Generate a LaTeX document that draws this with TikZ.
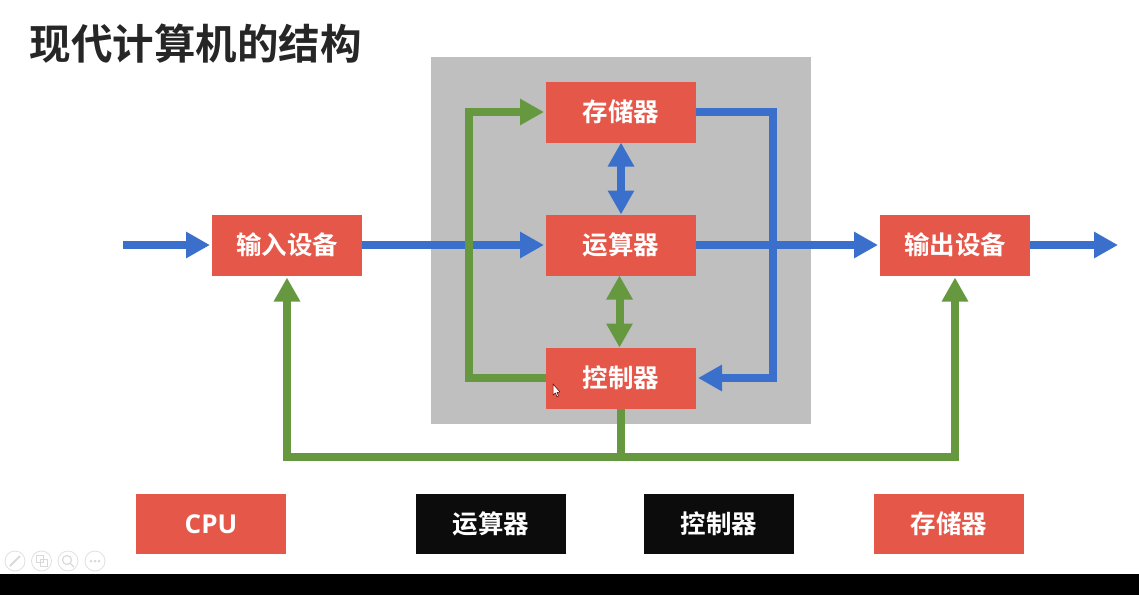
\documentclass[tikz,border=0pt]{standalone}
\usepackage{fontspec}
\setmainfont{Noto Sans CJK SC}[BoldFont={* Bold}]
\newfontfamily\cpufont{Open Sans}[BoldFont={* Bold}]
\usetikzlibrary{positioning,arrows.meta}
\definecolor{boxRed}{HTML}{E55749}
\definecolor{lineBlue}{HTML}{3A70CB}
\definecolor{lineGreen}{HTML}{66993F}
\definecolor{panelGray}{HTML}{BFBFBF}
\definecolor{barBlack}{HTML}{0C0C0C}
\tikzset{
  redBox/.style={fill=boxRed,text=white,minimum width=150pt,minimum height=61pt,inner sep=0pt,outer sep=0pt,font=\fontsize{25.5}{25.5}\selectfont\bfseries},
  blackBox/.style={redBox,fill=barBlack},
  blueLine/.style={draw=lineBlue,line width=8pt},
  greenLine/.style={draw=lineGreen,line width=8pt},
  arrowEnd/.style={-{Triangle[length=24pt,width=25pt]},shorten >=2pt},
  arrowBoth/.style={{Triangle[length=24pt,width=25pt]}-{Triangle[length=24pt,width=25pt]}},
  toolIcon/.style={circle,draw=black!12,line width=0.8pt,minimum size=20pt,inner sep=0pt}
}
\begin{document}
\begin{tikzpicture}[x=1pt,y=-1pt]
\useasboundingbox (0,0) rectangle (1139,595);
\fill[black] (0,574) rectangle (1139,595);
\fill[panelGray] (431,57) rectangle (811,424);
\node[anchor=west,font=\fontsize{41.5}{41.5}\selectfont\bfseries,text=black!85] (title) at (26,44) {现代计算机的结构};
% main row
\node[redBox] (mem) at (621,112) {存储器};
\node[redBox,below=72pt of mem] (alu) {运算器};
\node[redBox,below=72pt of alu] (ctrl) {控制器};
\node[redBox,left=184pt of alu] (input) {输入设备};
\node[redBox,right=184pt of alu] (output) {输出设备};
% bottom row
\node[redBox,minimum height=60pt,font=\fontsize{26}{26}\selectfont\bfseries\cpufont] (cpu) at (211,524) {CPU};
\node[blackBox,minimum height=60pt,right=130pt of cpu] (alu2) {运算器};
\node[blackBox,minimum height=60pt,right=78pt of alu2] (ctrl2) {控制器};
\node[redBox,minimum height=60pt,right=80pt of ctrl2] (mem2) {存储器};
\coordinate (inStart) at (123,245);
\coordinate (outEnd) at (1120,245);
\coordinate (busMid) at (ctrl.south |- 0,457);
\coordinate (rightRail) at (773,245);
\coordinate (leftRail) at (469,245);
% blue lines
\draw[blueLine,arrowEnd] (inStart) -- (input);
\draw[blueLine,arrowEnd] (input) -- (alu);
\draw[blueLine,arrowEnd] (alu) -- (output);
\draw[blueLine,arrowEnd] (output) -- (outEnd);
\draw[blueLine,arrowBoth] (mem) -- (alu);
\draw[blueLine,arrowEnd] (mem.east) -| (rightRail) |- (ctrl.east);
% green lines
\draw[greenLine,arrowBoth,transform canvas={xshift=-1.5pt}] (alu) -- (ctrl);
\draw[greenLine,arrowEnd] (ctrl.west) -| (leftRail) |- (mem.west);
\draw[greenLine] (ctrl.south) -- (busMid);
\draw[greenLine,arrowEnd] (busMid) -| (input.south);
\draw[greenLine,arrowEnd] (busMid) -| (output.south);
% mouse pointer
\fill[white,draw=black!70!red,line width=0.5pt] (553,384) -- (553,395) -- (555.5,393) -- (557,397) -- (558.5,396) -- (557,392.5) -- (560,392) -- cycle;
% viewer buttons
\node[toolIcon] (btnPen) at (15,561) {};
\node[toolIcon] (btnPages) at (41.5,561) {};
\node[toolIcon] (btnZoom) at (68,561) {};
\node[toolIcon] (btnMore) at (95,561) {};
\draw[black!15,line width=2pt] (10,566) -- (20,556);
\draw[black!15,line width=1pt] (36,555) rectangle (43,562) (40,559) rectangle (47,566);
\draw[black!15,line width=1.2pt] (67,560) circle (4.5pt) (70,563) -- (74,567);
\foreach \dotx in {91,95,99} \fill[black!15] (\dotx,561) circle (1.5pt);
\end{tikzpicture}
\end{document}
